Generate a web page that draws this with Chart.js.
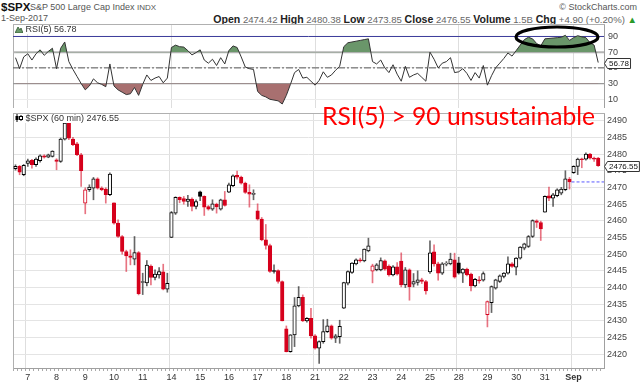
<!DOCTYPE html>
<html><head><meta charset="utf-8">
<script src="https://cdn.jsdelivr.net/npm/chart.js@4/dist/chart.umd.min.js"></script>
<style>
html,body{margin:0;padding:0;background:#fff;}
body{width:640px;height:382px;position:relative;overflow:hidden;font-family:"Liberation Sans",Arial,sans-serif;}
.t{position:absolute;white-space:nowrap;line-height:1;}
#rsiCanvas{position:absolute;left:0;top:24px;}
#priceCanvas{position:absolute;left:0;top:113px;}
#ann{position:absolute;left:322px;top:103px;color:#f00;font-family:Lato,"Open Sans",sans-serif;font-size:25px;white-space:nowrap;line-height:1;transform-origin:0 0;}
#ell{position:absolute;left:0;top:0;pointer-events:none;}
#quote b{color:#222;font-size:1.1em;}
</style></head><body>

<div class="t" style="left:1px;top:2px;font-size:11.5px;font-weight:bold;color:#111">$SPX</div>
<div class="t" style="left:30px;top:3px;font-size:9px;color:#555">S&amp;P 500 Large Cap Index <span style="font-size:8px">INDX</span></div>
<div class="t" style="right:3px;top:3px;font-size:9px;color:#555">© StockCharts.com</div>
<div class="t" style="left:1px;top:14px;font-size:9px;color:#555">1-Sep-2017</div>
<div class="t" id="quote" style="right:3px;top:14px;font-size:9px;color:#666"></div>

<canvas id="rsiCanvas" width="640" height="84"></canvas>
<canvas id="priceCanvas" width="640" height="269"></canvas>

<div class="t" style="left:15px;top:25px;font-size:9px;color:#333;background:#fff">
<svg width="8" height="7" style="vertical-align:-1px"><polygon points="0,7 3,1 5,4 6,2 8,7" fill="#6b9a6b" stroke="#2f552f" stroke-width="0.8"/></svg> RSI(5) 56.78</div>
<div class="t" style="left:15px;top:114px;font-size:9px;color:#333;background:#fff">
<svg width="8" height="8" style="vertical-align:-1px"><line x1="2" y1="0" x2="2" y2="8" stroke="#000"/><rect x="0.5" y="2" width="3" height="4" fill="#000"/><line x1="6" y1="1" x2="6" y2="7" stroke="#000"/><rect x="4.5" y="2.5" width="3" height="3" fill="#fff" stroke="#000" stroke-width="1"/></svg> $SPX (60 min) 2476.55</div>

<div id="ann">RSI(5) &gt; 90 unsustainable</div>
<svg id="ell" width="640" height="382"><ellipse cx="557" cy="37" rx="41" ry="10" fill="none" stroke="#000" stroke-width="3.2"/></svg>

<script>
// ---------- data ----------
const firstBarIndex = -3;           // three hourly bars of Aug 4 before Aug 7
const barsPerDay = 7;
const dayLabels = ['7','8','9','10','11','14','15','16','17','18','21','22','23','24','25','28','29','30','31','Sep'];
const gridDayLabels = ['7','14','21','28','Sep'];

const opens = [
 2475.6,2476.3,2473.8,
 2477.2,2478.1,2476.8,2478.0,2479.5,2479.1,2479.3,
 2478.3,2477.8,2484.5,2489.3,2484.5,2483.1,2479.8,
 2465.3,2469.3,2469.8,2472.6,2469.8,2469.5,2467.8,
 2465.4,2459.3,2455.3,2450.8,2449.5,2448.5,2450.5,
 2441.5,2441.4,2446.4,2443.0,2443.8,2444.7,2439.5,
 2455.0,2462.3,2467.0,2466.7,2465.8,2466.5,2464.3,
 2468.7,2467.3,2464.3,2463.5,2465.0,2463.5,2466.3,
 2468.6,2470.5,2473.6,2473.1,2471.3,2468.5,2467.9,
 2463.0,2460.5,2454.3,2452.6,2445.1,2445.1,2441.8,
 2427.6,2420.8,2425.8,2434.5,2437.1,2430.0,2430.8,
 2425.5,2421.8,2423.8,2426.8,2428.5,2424.8,2425.3,
 2433.8,2441.3,2444.5,2447.1,2448.3,2448.0,2451.0,
 2444.9,2445.3,2445.3,2448.0,2446.4,2443.8,2446.2,
 2447.9,2440.8,2445.3,2441.0,2441.5,2442.3,2441.8,
 2444.7,2450.7,2447.1,2444.3,2447.0,2447.1,2448.3,
 2447.4,2444.3,2445.5,2444.0,2440.5,2442.3,2442.2,
 2431.9,2435.5,2439.8,2441.8,2443.3,2444.3,2447.1,
 2446.1,2448.8,2451.8,2452.3,2455.3,2460.0,2459.5,
 2462.6,2467.5,2466.8,2467.5,2468.3,2469.3,2472.5,
 2474.4,2476.3,2478.5,2478.5,2480.0,2478.8,2478.8];
const highs = [
 2476.8,2476.6,2476.9,
 2478.5,2478.4,2478.9,2479.8,2479.8,2480.0,2481.0,
 2478.6,2484.8,2490.9,2489.6,2485.0,2483.5,2480.2,
 2469.9,2470.8,2473.0,2472.9,2470.2,2469.9,2474.4,
 2465.4,2460.3,2455.6,2451.2,2451.3,2455.3,2450.8,
 2444.3,2448.1,2446.8,2445.3,2446.0,2447.0,2444.3,
 2462.8,2467.2,2467.2,2467.3,2467.6,2466.9,2466.3,
 2468.9,2467.5,2464.6,2466.3,2465.3,2466.5,2468.8,
 2471.3,2473.8,2474.9,2473.4,2471.6,2470.8,2469.3,
 2465.1,2461.0,2458.9,2453.0,2446.8,2445.3,2442.0,
 2428.5,2425.9,2437.0,2440.3,2437.8,2431.0,2433.8,
 2425.9,2424.0,2430.4,2430.5,2428.8,2426.0,2430.2,
 2441.6,2445.0,2447.5,2448.6,2448.8,2451.6,2454.8,
 2447.0,2447.2,2448.9,2448.3,2446.8,2446.6,2447.5,
 2450.4,2446.0,2445.6,2444.2,2445.0,2442.8,2442.2,
 2454.0,2452.8,2447.6,2447.5,2447.8,2450.3,2450.3,
 2449.1,2445.7,2445.8,2444.3,2442.8,2443.3,2444.7,
 2436.0,2440.5,2442.5,2443.8,2444.5,2449.2,2447.5,
 2449.0,2452.3,2453.3,2455.6,2460.3,2460.3,2459.9,
 2467.5,2470.1,2468.2,2469.6,2470.0,2475.0,2473.0,
 2476.5,2478.8,2478.8,2480.4,2480.2,2479.1,2479.0];
const lows = [
 2475.2,2473.8,2473.5,
 2476.3,2475.8,2476.3,2477.6,2478.8,2478.9,2479.1,
 2475.3,2477.5,2484.2,2484.3,2482.5,2479.5,2470.3,
 2462.1,2468.8,2466.3,2469.5,2469.0,2465.3,2467.5,
 2459.0,2455.0,2450.0,2444.8,2446.8,2446.8,2437.8,
 2437.9,2440.5,2440.8,2442.3,2442.8,2439.3,2438.6,
 2455.0,2461.9,2465.4,2465.0,2464.3,2463.0,2463.6,
 2466.0,2461.6,2463.2,2463.1,2462.3,2463.2,2464.4,
 2468.4,2470.2,2472.5,2471.0,2468.2,2464.1,2466.3,
 2460.2,2454.0,2451.5,2444.5,2444.3,2441.3,2430.0,
 2420.7,2420.6,2422.3,2434.2,2429.8,2429.6,2424.8,
 2421.5,2417.3,2423.3,2426.5,2424.5,2423.5,2423.3,
 2433.7,2440.8,2444.2,2446.8,2447.6,2447.7,2450.7,
 2441.4,2445.0,2445.0,2445.2,2443.4,2443.5,2443.7,
 2440.2,2440.0,2436.2,2440.2,2440.7,2441.2,2438.0,
 2444.2,2446.4,2442.2,2443.9,2446.5,2446.8,2442.8,
 2444.0,2441.5,2443.5,2439.0,2440.2,2441.3,2441.9,
 2428.2,2432.5,2439.5,2441.5,2442.9,2444.0,2446.0,
 2443.8,2448.5,2451.3,2452.0,2455.0,2458.0,2454.1,
 2462.6,2466.0,2464.3,2467.2,2467.8,2469.0,2469.5,
 2474.2,2473.85,2475.9,2478.2,2478.5,2477.8,2476.3];
const closes = [
 2476.3,2474.6,2476.6,
 2478.0,2476.8,2478.5,2479.5,2479.1,2479.8,2480.9,
 2477.8,2484.5,2489.3,2484.8,2482.8,2479.8,2475.0,
 2469.3,2470.1,2472.6,2469.8,2469.3,2467.8,2474.0,
 2459.3,2455.3,2450.8,2449.5,2449.0,2450.5,2438.2,
 2441.8,2446.7,2443.0,2444.0,2444.8,2439.5,2441.3,
 2462.5,2467.0,2466.3,2465.8,2466.5,2464.3,2465.8,
 2467.3,2464.1,2463.5,2465.1,2464.2,2466.3,2464.6,
 2470.8,2473.5,2473.1,2471.3,2468.5,2468.0,2468.1,
 2460.5,2454.3,2452.6,2444.8,2444.8,2441.8,2430.0,
 2420.8,2425.8,2434.5,2437.1,2430.0,2430.8,2425.5,
 2421.8,2423.8,2426.8,2428.5,2424.8,2425.5,2428.4,
 2441.5,2444.8,2447.3,2448.3,2448.0,2451.5,2452.5,
 2446.5,2446.8,2448.1,2445.5,2443.8,2446.2,2444.0,
 2440.8,2445.3,2440.3,2441.8,2442.3,2441.8,2439.0,
 2450.4,2447.1,2444.3,2447.1,2447.3,2448.5,2443.1,
 2444.3,2445.5,2443.8,2440.5,2442.5,2442.0,2444.2,
 2435.8,2440.3,2442.3,2443.5,2444.3,2447.1,2446.3,
 2448.8,2452.1,2453.1,2455.3,2460.1,2459.5,2457.6,
 2467.3,2466.8,2467.8,2469.3,2469.5,2472.6,2471.65,
 2476.3,2478.5,2478.3,2480.0,2478.8,2478.5,2476.55];
const rsi5 = [
 63,49,64,
 68,60,68,73,66,71,75,
 49,75,83,58,48,39,30,
 22,27,36,31,29,26,55,
 27,22,19,16,17,25,15,
 29,41,34,37,39,31,37,
 76,79,77,76.5,72,66.5,69.5,
 73,60,56,61,53,63,55,
 72,78,76,64,51,49,48,
 20,15,13,10,9,8,4,
 15,29,44,48,37,38,33,
 28,34,45,38,41,47,52,
 77,82,83,84,85,86,87,
 58,55,60,50,44,54,42,
 33,52,38,41,43,38,33,
 70,61,50,56,58,63,44,
 45,49,43,34,44,37,53,
 28,40,50,56,62,69,65,
 72,79,86,89,87,81,78,
 87,87.5,88,88.5,89,91.5,85,
 88.5,91,89.5,88.5,82,79,56.78];
const priceTicks = [2420,2425,2430,2435,2440,2445,2450,2455,2460,2465,2470,2475,2480,2485,2490];
const rsiTicks = [10,30,50,70,90];
const rsiLevels = [90,70,50,30];
const quote = {Open:'2474.42', High:'2480.38', Low:'2473.85', Close:'2476.55', Volume:'1.5B', Chg:'+4.90 (+0.20%)'};

// ---------- derived ----------
const barIndex = opens.map((_, k) => firstBarIndex + k);
const lastClose = closes[closes.length - 1];
const lastRsi = rsi5[rsi5.length - 1];
const lastDayStart = (dayLabels.length - 1) * barsPerDay;
const prevDayClose = closes[lastDayStart - 1 - firstBarIndex];
const RED = '#d6001c', BLACK = '#000000';
const X_MIN = -3.61, X_MAX = 140.41;

function candleColor(k){ const prev = k > 0 ? closes[k-1] : opens[k]; return closes[k] >= prev ? BLACK : RED; }
function isHollow(k){ return closes[k] >= opens[k]; }
function labelFor(v){ const d = v / barsPerDay; return (Number.isInteger(d) && d >= 0 && d < dayLabels.length) ? dayLabels[d] : ''; }
function isGridTick(v){ const l = labelFor(v); return l !== '' && gridDayLabels.includes(l); }

const q = document.getElementById('quote');
q.innerHTML = Object.entries(quote).map(([k,v]) => '<b>'+k+'</b> '+v).join(' ') + ' <span style="color:#2a9a2a">&#9650;</span>';
(function(){ const w = q.getBoundingClientRect().width; q.style.fontSize = (9 * 424 / w) + 'px'; })();

// fit annotation width
(function(){ const a = document.getElementById('ann');
  const w = a.getBoundingClientRect().width; a.style.transform = 'scaleX(' + (273 / w) + ')'; })();

function priceBox(chart, value, text, yScaleId){
  const {ctx, chartArea} = chart; const y = Math.round(chart.scales[yScaleId].getPixelForValue(value)) + 0.5;
  const x0 = chartArea.right + 0.5; ctx.save();
  ctx.font = '8px "Liberation Sans", Arial, sans-serif';
  const w = ctx.measureText(text).width + 3;
  ctx.beginPath(); ctx.moveTo(x0, y); ctx.lineTo(x0 + 3, y - 5); ctx.lineTo(x0 + 3 + w, y - 5);
  ctx.lineTo(x0 + 3 + w, y + 5); ctx.lineTo(x0 + 3, y + 5); ctx.closePath();
  ctx.fillStyle = '#fff'; ctx.fill(); ctx.strokeStyle = '#333'; ctx.lineWidth = 1; ctx.stroke();
  ctx.fillStyle = '#111'; ctx.textBaseline = 'middle'; ctx.fillText(text, x0 + 4.5, y + 0.5); ctx.restore();
}
const noPad = s => { s.paddingTop = 0; s.paddingBottom = 0; s.paddingLeft = 0; s.paddingRight = 0; };

const commonX = (showTicks) => ({
  type:'linear', min:X_MIN, max:X_MAX, offset:false,
  afterBuildTicks: s => { s.ticks = barIndex.map(v => ({value:v})); },
  ticks:{display:showTicks, autoSkip:false, maxRotation:0, minRotation:0, padding:1, color:'#333',
    font: c => ({family:'Liberation Sans', size:9, weight: (c.tick && labelFor(c.tick.value)==='Sep') ? 'bold' : 'normal'}),
    callback: v => labelFor(v)},
  grid:{color: c => (c.tick && isGridTick(c.tick.value)) ? '#dedede' : 'rgba(0,0,0,0)', tickColor:'#aaa', tickLength:3, drawTicks:showTicks},
  border:{color:'#a0a0a0'},
  afterFit: s => { s.height = showTicks ? 14 : 0; noPad(s); }
});
const borderAxis = (pos) => ({
  type:'linear', position:pos, display:true, ticks:{display:false}, grid:{display:false, drawTicks:false},
  border:{color:'#b0b0b0'}, afterFit: s => { if (pos==='left') s.width = 0; else s.height = 0; noPad(s); }
});

// ---------- RSI panel ----------
const rsiPoints = barIndex.map((x,k) => ({x, y:rsi5[k]}));
const levelStyle = {90:{c:'#3a3a9a', w:1, d:[]}, 70:{c:'#b4b4b4', w:2, d:[]}, 50:{c:'#555', w:1, d:[7,2,2,2]}, 30:{c:'#999', w:1.2, d:[]}};
new Chart(document.getElementById('rsiCanvas'), {
  type:'line',
  data:{datasets:[
    {data:rsiPoints, borderColor:'#333', borderWidth:1, pointRadius:0, tension:0, order:1,
     fill:{target:{value:70}, above:'rgb(106,150,106)', below:'rgba(0,0,0,0)'}},
    {data:rsiPoints, borderColor:'rgba(0,0,0,0)', borderWidth:0, pointRadius:0, tension:0, order:2,
     fill:{target:{value:30}, above:'rgba(0,0,0,0)', below:'rgb(168,112,112)'}},
    ...rsiLevels.map(l => ({data:[{x:X_MIN,y:l},{x:X_MAX,y:l}], borderColor:levelStyle[l].c, borderWidth:levelStyle[l].w,
      borderDash:levelStyle[l].d, pointRadius:0, fill:false, order:5}))
  ]},
  options:{
    responsive:false, animation:false, devicePixelRatio:1,
    layout:{padding:{left:13, right:0, top:0, bottom:0}},
    plugins:{legend:{display:false}, tooltip:{enabled:false}},
    scales:{
      x: commonX(false),
      y:{type:'linear', position:'right', min:-1.1, max:105.9,
         afterBuildTicks: s => { s.ticks = rsiTicks.map(v => ({value:v})); },
         ticks:{color:'#444', font:{family:'Liberation Sans', size:9}, padding:4, callback: v => String(v)},
         grid:{color:'#ececec', drawTicks:false}, border:{color:'#a0a0a0'},
         afterFit: s => { s.width = 36; noPad(s); }},
      yl: borderAxis('left'), xt: borderAxis('top')
    }
  },
  plugins:[{id:'rsiBox', afterDraw: ch => priceBox(ch, lastRsi, lastRsi.toFixed(2), 'y')}]
});

// ---------- price panel ----------
new Chart(document.getElementById('priceCanvas'), {
  type:'bar',
  data:{datasets:[
    {type:'bar', order:2, grouped:false, data: barIndex.map((x,k) => ({x, y:[lows[k], highs[k]]})),
     barThickness:1, borderWidth:0,
     backgroundColor: c => candleColor(c.dataIndex) === RED ? 'rgba(214,0,28,0.55)' : 'rgba(0,0,0,0.6)'},
    {type:'bar', order:1, grouped:false, data: barIndex.map((x,k) => ({x, y:[opens[k], closes[k]]})),
     barThickness:3.5, minBarLength:1, borderWidth:1, borderSkipped:false,
     backgroundColor: c => isHollow(c.dataIndex) ? '#ffffff' : candleColor(c.dataIndex),
     borderColor: c => candleColor(c.dataIndex)},
    {type:'line', order:0, data:[{x:lastDayStart - 0.5, y:prevDayClose},{x:X_MAX, y:prevDayClose}],
     borderColor:'#5a5aff', borderWidth:1, borderDash:[3,2], pointRadius:0, fill:false}
  ]},
  options:{
    responsive:false, animation:false, devicePixelRatio:1,
    layout:{padding:{left:13, right:0, top:0, bottom:0}},
    plugins:{legend:{display:false}, tooltip:{enabled:false}},
    scales:{
      x: commonX(true),
      y:{type:'linear', position:'right', min:2415.89, max:2492.31,
         afterBuildTicks: s => { s.ticks = priceTicks.map(v => ({value:v})); },
         ticks:{color:'#444', font:{family:'Liberation Sans', size:9}, padding:3, callback: v => String(v)},
         grid:{color:'#e4e4e4', drawTicks:false}, border:{color:'#a0a0a0'},
         afterFit: s => { s.width = 36; noPad(s); }},
      yl: borderAxis('left'), xt: borderAxis('top')
    }
  },
  plugins:[{id:'priceBox', afterDraw: ch => priceBox(ch, lastClose, lastClose.toFixed(2), 'y')}]
});
</script>
</body></html>
